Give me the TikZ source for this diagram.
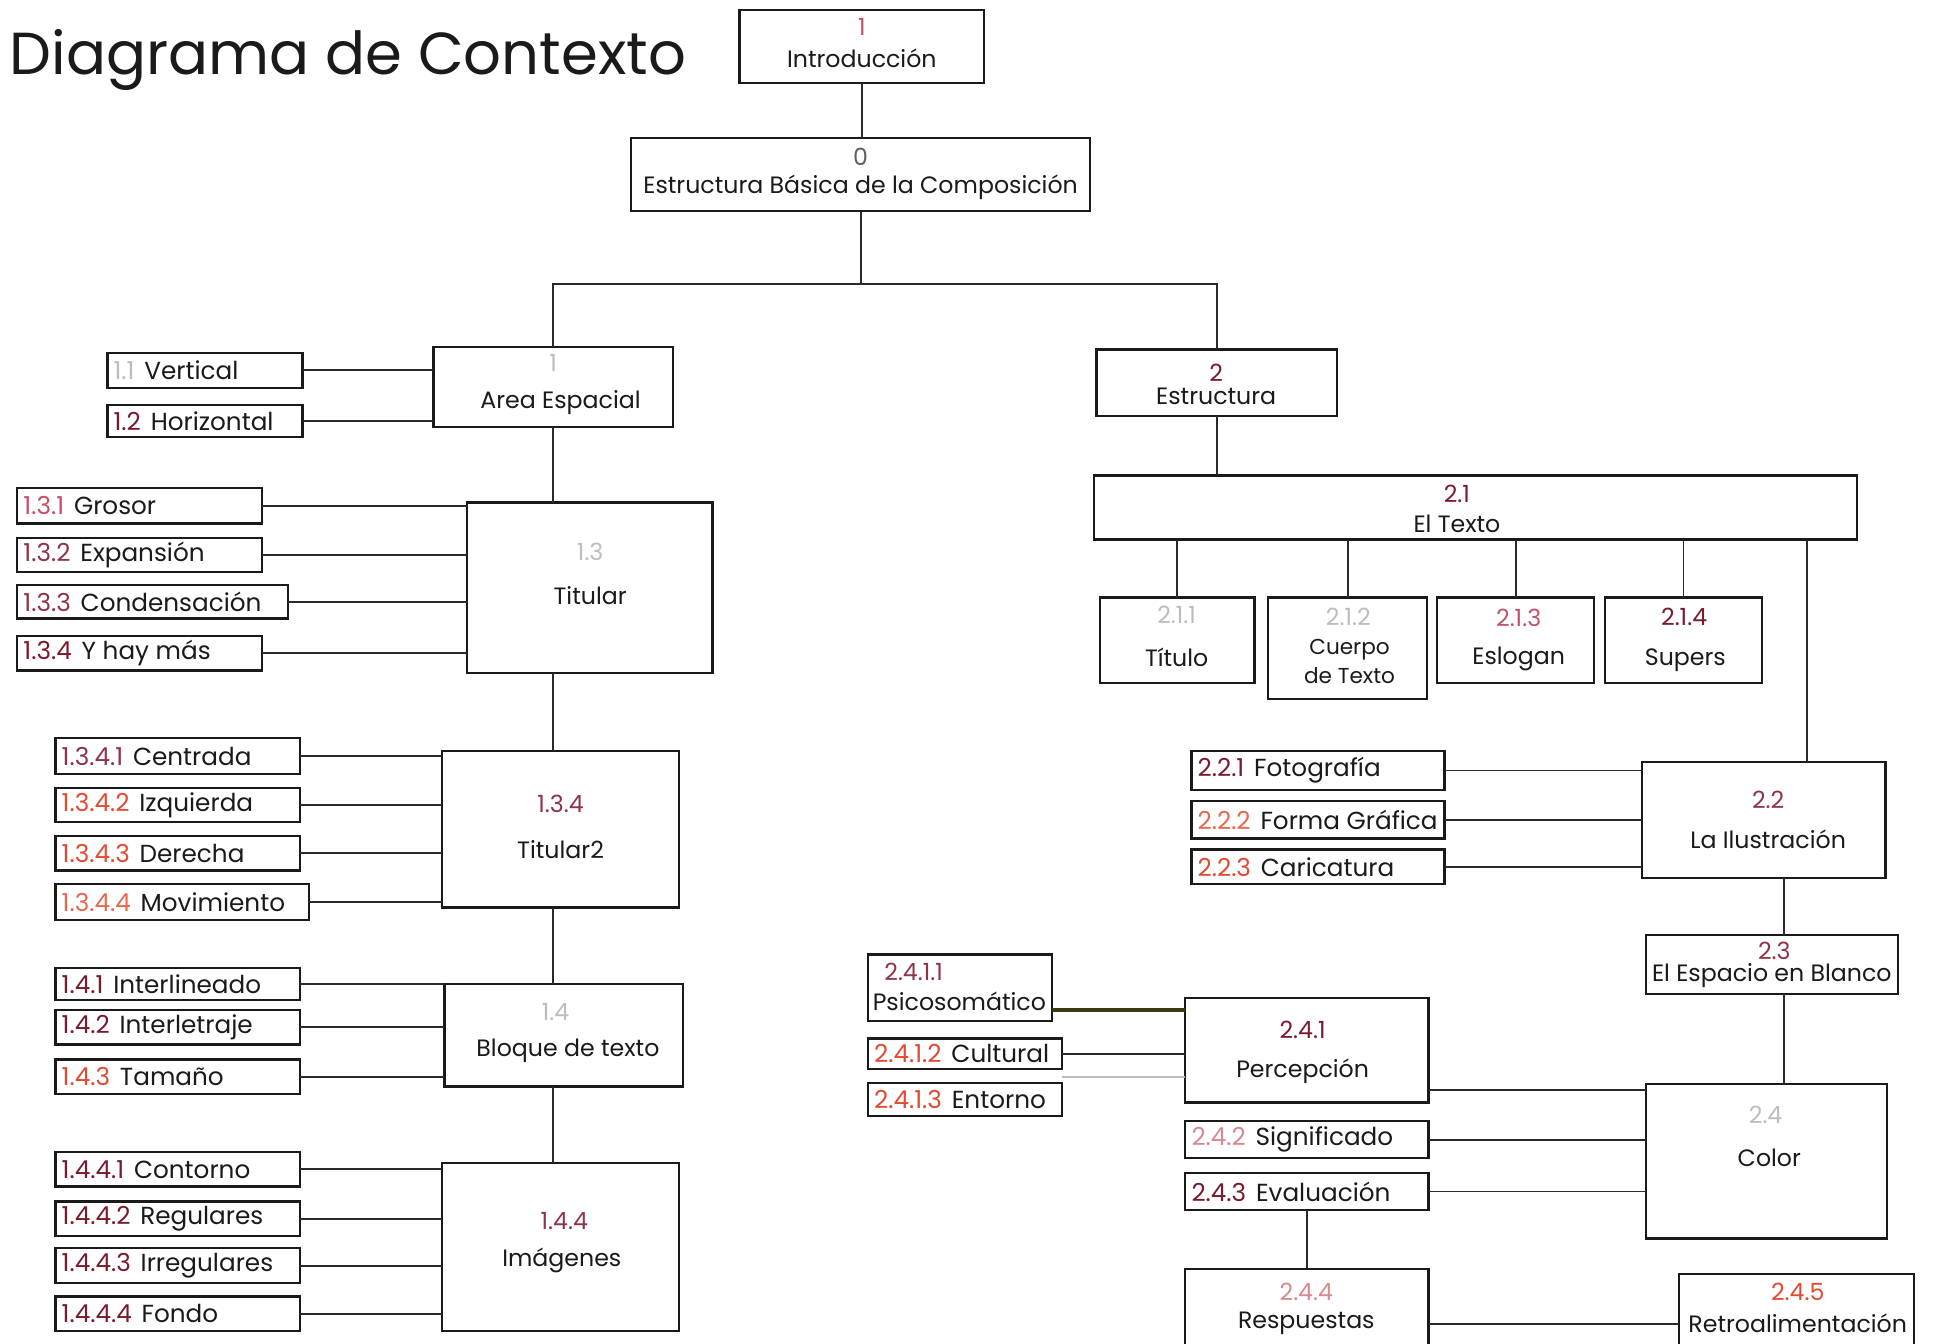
\documentclass[tikz,border=0pt]{standalone}
\usepackage{fontspec}
\setmainfont{Poppins}
\usetikzlibrary{calc}
\definecolor{ink}{HTML}{1A1A1A}
\definecolor{line}{HTML}{2A2A2A}
\definecolor{faint}{HTML}{BDBDBD}
\definecolor{gray5}{HTML}{606060}
\definecolor{dred}{HTML}{7A1A2C}
\definecolor{mred}{HTML}{8E3446}
\definecolor{pred}{HTML}{C4506A}
\definecolor{ored}{HTML}{E24A32}
\definecolor{lred}{HTML}{E8684E}
\definecolor{pink}{HTML}{D88890}
\definecolor{olive}{HTML}{3C3A12}
\tikzset{
  frame/.style={draw=ink, line width=1.1pt, inner sep=0pt, outer sep=0pt, fill=white},
  lbl/.style={inner sep=0pt, outer sep=0pt, text=ink, font=\fontsize{11.5}{13}\selectfont},
  leaflbl/.style={lbl, font=\fontsize{12}{14}\selectfont},
  conn/.style={draw=line, line width=0.9pt},
}
\newcommand{\bx}[5]{%
  \pgfmathsetmacro\bxw{(#4-#2)*0.6}\pgfmathsetmacro\bxh{(#5-#3)*0.6}%
  \node[frame, minimum width=\bxw pt, minimum height=\bxh pt] (#1) at ({(#2+#4)/2},{(#3+#5)/2}) {};}
\newcommand{\leaf}[8]{%
  \bx{#1}{#2}{#3}{#4}{#5}%
  \node[leaflbl, anchor=west] (#1t) at ([xshift=3pt]#1.west) {\textcolor{#6}{#7}\hspace{0.4em}#8};}
\begin{document}
\begin{tikzpicture}[x=0.6pt,y=-0.6pt]
\useasboundingbox (0,0) rectangle (1568,1088);
\fill[white] (0,0) rectangle (1568,1088);
% title
\node[lbl, anchor=base west, font=\fontsize{28.8}{33}\selectfont] (title) at (8,60) {Diagrama de Contexto};
% top
\bx{intro}{599}{8}{797}{67}
\node[lbl, text=pred] (intron) at (698,22) {1};
\node[lbl] (introl) at (698,47) {Introducción};
\bx{b0}{511}{112}{883}{171}
\node[lbl, text=gray5] (b0n) at (697,127) {0};
\node[lbl] (b0l) at (697,152) {Estructura Básica de la Composición};
\draw[conn] (intro.south) -- (intro.south |- b0.north);
\coordinate (j0) at (697,230);
% level 1
\bx{area}{351}{281}{545}{346}
\node[lbl, text=faint] (arean) at (448,294) {1};
\node[lbl] (areal) at (454,326) {Area Espacial};
\bx{est}{888}{283}{1083}{337}
\node[lbl, text=dred] (estn) at (985,302) {2};
\node[lbl] (estl) at (985,321) {Estructura};
\draw[conn] (b0.south) -- (j0);
\draw[conn] (area.north) |- (j0);
\draw[conn] (est.north) |- (j0);
% area leaves
\leaf{v11}{87}{286}{245}{314}{faint}{1.1}{Vertical}
\leaf{v12}{87}{328}{245}{354}{dred}{1.2}{Horizontal}
\draw[conn] (v11.east) -- (v11.east -| area.west);
\draw[conn] (v12.east) -- (v12.east -| area.west);
% titular
\bx{tit}{378}{407}{577}{545}
\node[lbl, text=faint] (titn) at (478,447) {1.3};
\node[lbl] (titl) at (478,482) {Titular};
\draw[conn] (area.south) -- (area.south |- tit.north);
\leaf{g1}{14}{395}{212}{424}{pred}{1.3.1}{Grosor}
\leaf{g2}{14}{436}{212}{463}{mred}{1.3.2}{Expansión}
\leaf{g3}{14}{474}{233}{501}{mred}{1.3.3}{Condensación}
\leaf{g4}{14}{515}{212}{543}{dred}{1.3.4}{Y hay más}
\foreach \n in {g1,g2,g3,g4} \draw[conn] (\n.east) -- (\n.east -| tit.west);
% titular2
\bx{tit2}{358}{608}{550}{735}
\node[lbl, text=mred] (tit2n) at (454,651) {1.3.4};
\node[lbl] (tit2l) at (454,688) {Titular2};
\draw[conn] (area.south |- tit.south) -- (area.south |- tit2.north);
\leaf{c1}{45}{598}{243}{627}{mred}{1.3.4.1}{Centrada}
\leaf{c2}{45}{638}{243}{666}{ored}{1.3.4.2}{Izquierda}
\leaf{c3}{45}{677}{243}{705}{ored}{1.3.4.3}{Derecha}
\leaf{c4}{45}{716}{250}{745}{lred}{1.3.4.4}{Movimiento}
\foreach \n in {c1,c2,c3,c4} \draw[conn] (\n.east) -- (\n.east -| tit2.west);
% bloque
\bx{bl}{360}{797}{553}{880}
\node[lbl, text=faint] (bln) at (450,820) {1.4};
\node[lbl] (bll) at (460,851) {Bloque de texto};
\draw[conn] (area.south |- tit2.south) -- (area.south |- bl.north);
\leaf{i1}{45}{784}{243}{810}{dred}{1.4.1}{Interlineado}
\leaf{i2}{45}{818}{243}{846}{dred}{1.4.2}{Interletraje}
\leaf{i3}{45}{858}{243}{886}{ored}{1.4.3}{Tamaño}
\foreach \n in {i1,i2,i3} \draw[conn] (\n.east) -- (\n.east -| bl.west);
% imagenes
\bx{img}{358}{942}{550}{1078}
\node[lbl, text=mred] (imgn) at (457,989) {1.4.4};
\node[lbl] (imgl) at (455,1021) {Imágenes};
\draw[conn] (area.south |- bl.south) -- (area.south |- img.north);
\leaf{f1}{45}{933}{243}{961}{dred}{1.4.4.1}{Contorno}
\leaf{f2}{45}{973}{243}{1001}{dred}{1.4.4.2}{Regulares}
\leaf{f3}{45}{1011}{243}{1039}{dred}{1.4.4.3}{Irregulares}
\leaf{f4}{45}{1050}{243}{1078}{dred}{1.4.4.4}{Fondo}
\foreach \n in {f1,f2,f3,f4} \draw[conn] (\n.east) -- (\n.east -| img.west);
% El Texto
\bx{et}{886}{385}{1504}{437}
\node[lbl, text=dred] (etn) at (1180,400) {2.1};
\node[lbl] (etl) at (1180,424) {El Texto};
\draw[conn] (est.south) -- (est.south |- et.north);
\bx{tt}{891}{484}{1016}{553}
\node[lbl, text=faint] (ttn) at (953,498) {2.1.1};
\node[lbl] (ttl) at (953,532) {Título};
\bx{cu}{1027}{484}{1156}{566}
\node[lbl, text=faint] (cun) at (1092,500) {2.1.2};
\node[lbl, align=center, font=\fontsize{10.5}{14}\selectfont] (cul) at (1093,536) {Cuerpo\\de Texto};
\bx{es}{1164}{484}{1291}{553}
\node[lbl, text=pred] (esn) at (1230,500) {2.1.3};
\node[lbl] (esl) at (1230,534) {Eslogan};
\bx{su}{1300}{484}{1427}{553}
\node[lbl, text=dred] (sun) at (1364,500) {2.1.4};
\node[lbl] (sul) at (1365,535) {Supers};
\foreach \n in {tt,cu,es,su} \draw[conn] (\n.north) -- (\n.north |- et.south);
% ilustracion
\bx{ilu}{1330}{617}{1527}{711}
\node[lbl, text=mred] (ilun) at (1432,648) {2.2};
\node[lbl] (ilul) at (1432,680) {La Ilustración};
\draw[conn] ([xshift=21pt]ilu.north) -- ([xshift=21pt]ilu.north |- et.south);
\leaf{p1}{965}{608}{1170}{640}{dred}{2.2.1}{Fotografía}
\leaf{p2}{965}{649}{1170}{679}{lred}{2.2.2}{Forma Gráfica}
\leaf{p3}{965}{688}{1170}{716}{ored}{2.2.3}{Caricatura}
\foreach \n in {p1,p2,p3} \draw[conn] (\n.east) -- (\n.east -| ilu.west);
% espacio
\bx{esp}{1333}{757}{1537}{805}
\node[lbl, text=mred] (espn) at (1437,770) {2.3};
\node[lbl] (espl) at (1435,790) {El Espacio en Blanco};
\draw[conn] ([xshift=6pt]esp.north) -- ([xshift=6pt]esp.north |- ilu.south);
% color
\bx{col}{1333}{878}{1528}{1003}
\node[lbl, text=faint] (coln) at (1430,903) {2.4};
\node[lbl] (coll) at (1433,938) {Color};
\draw[conn] ([xshift=6pt]esp.south) -- ([xshift=6pt]esp.south |- col.north);
% percepcion
\bx{per}{960}{808}{1157}{893}
\node[lbl, text=dred] (pern) at (1055,834) {2.4.1};
\node[lbl] (perl) at (1055,868) {Percepción};
\draw[conn] ([yshift=6pt]per.south east) -- ([yshift=6pt]per.south east -| col.west);
\leaf{sig}{960}{908}{1157}{938}{pink}{2.4.2}{Significado}
\leaf{eva}{960}{950}{1157}{980}{dred}{2.4.3}{Evaluación}
\draw[conn] (sig.east) -- (sig.east -| col.west);
\draw[conn] (eva.east) -- (eva.east -| col.west);
% psicosomatico etc
\bx{psi}{703}{773}{852}{827}
\node[lbl, text=mred] (psin) at (740,787) {2.4.1.1};
\node[lbl] (psil) at (777,811) {Psicosomático};
\draw[draw=olive, line width=1.8pt] ([yshift=-10.8pt]psi.east) -- ([yshift=-10.8pt]psi.east -| per.west);
\leaf{cu2}{703}{841}{860}{866}{ored}{2.4.1.2}{Cultural}
\leaf{ent}{703}{877}{860}{904}{ored}{2.4.1.3}{Entorno}
\draw[conn] (cu2.east) -- (cu2.east -| per.west);
\draw[draw=faint, line width=0.9pt] ([yshift=3pt]ent.north east) -- ([yshift=3pt]ent.north east -| per.west);
% respuestas
\bx{resp}{960}{1028}{1157}{1100}
\node[lbl, text=pink] (respn) at (1058,1046) {2.4.4};
\node[lbl] (respl) at (1058,1072) {Respuestas};
\draw[conn] (resp.north) -- (resp.north |- eva.south);
\bx{retro}{1360}{1032}{1550}{1100}
\node[lbl, text=ored] (retron) at (1456,1046) {2.4.5};
\node[lbl] (retrol) at (1456,1072) {Retroalimentación};
\draw[conn] (respl -| resp.east) -- (respl -| retro.west);
\end{tikzpicture}
\end{document}
